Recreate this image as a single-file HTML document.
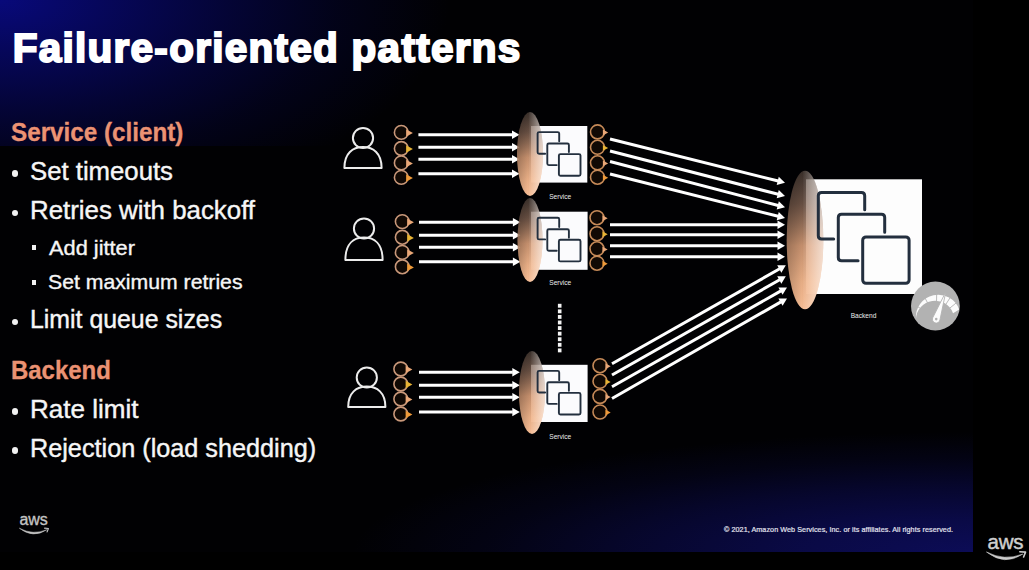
<!DOCTYPE html>
<html lang="en">
<head>
<meta charset="utf-8">
<title>Failure-oriented patterns</title>
<style>
html,body{margin:0;padding:0;background:#000;}
body{width:1029px;height:570px;overflow:hidden;position:relative;font-family:"Liberation Sans",sans-serif;color:#fff;}
.slide{position:absolute;left:0;top:0;width:972.5px;height:552px;overflow:hidden;
  background:#010103;}
.g1{position:absolute;left:0;top:0;width:972.5px;height:146px;
  background:radial-gradient(ellipse 450px 218px at 0 0, rgba(8,9,122,1) 0%, rgba(8,9,122,.71) 25%, rgba(8,9,122,.43) 50%, rgba(8,9,122,.18) 75%, rgba(8,9,122,0) 100%);}
.g2{position:absolute;left:0;top:402px;width:972.5px;height:150px;
  background:radial-gradient(ellipse 620px 120px at 100% 100%, rgba(12,12,86,1) 0%, rgba(12,12,86,.8) 28%, rgba(12,12,86,.5) 55%, rgba(12,12,86,.2) 78%, rgba(12,12,86,0) 100%);}
.t{position:absolute;white-space:nowrap;line-height:1;transform-origin:0 0;}
.title{font-weight:bold;font-size:40.5px;color:#fff;-webkit-text-stroke:2px #fff;}
.h{font-weight:bold;font-size:25.2px;color:#eb9273;-webkit-text-stroke:.3px #eb9273;}
.b1{font-size:25.2px;color:#f6f6f6;-webkit-text-stroke:.4px #f6f6f6;}
.b2{font-size:20.2px;color:#f6f6f6;-webkit-text-stroke:.35px #f6f6f6;}
.dot{position:absolute;background:#f2f2f2;}
.copy{font-size:7.2px;color:#e2e2ee;left:724px;top:526.4px;letter-spacing:.07px;-webkit-text-stroke:.2px #e2e2ee;}
.aws{position:absolute;font-weight:normal;color:#c4c4c4;line-height:1;white-space:nowrap;}
svg{position:absolute;left:0;top:0;}
svg text{font-family:"Liberation Sans",sans-serif;}
</style>
</head>
<body>
<div class="slide">
  <div class="g1"></div><div class="g2"></div>
  <div class="t title" id="title" style="left:12.7px;top:27.9px;letter-spacing:1.27px">Failure-oriented patterns</div>
  <div class="t h" id="h1" style="left:11.2px;top:119.9px;transform:scaleX(0.962)">Service (client)</div>
  <div class="t b1" id="l1" style="left:29.85px;top:158.8px;transform:scaleX(1.021)">Set timeouts</div>
  <div class="t b1" id="l2" style="left:30.1px;top:198.0px;transform:scaleX(1.026)">Retries with backoff</div>
  <div class="t b2" id="l3" style="left:49.1px;top:237.5px;transform:scaleX(1.079)">Add jitter</div>
  <div class="t b2" id="l4" style="left:48.0px;top:271.9px;transform:scaleX(1.051)">Set maximum retries</div>
  <div class="t b1" id="l5" style="left:30.2px;top:307.2px;transform:scaleX(0.987)">Limit queue sizes</div>
  <div class="t h" id="h2" style="left:10.9px;top:358.0px;transform:scaleX(0.951)">Backend</div>
  <div class="t b1" id="l6" style="left:30.0px;top:397.3px;transform:scaleX(1.034)">Rate limit</div>
  <div class="t b1" id="l7" style="left:30.1px;top:436.3px;transform:scaleX(1.002)">Rejection (load shedding)</div>
  <div class="dot" style="left:11.8px;top:170.2px;width:6.4px;height:6.4px;border-radius:50%"></div>
  <div class="dot" style="left:11.8px;top:209.5px;width:6.4px;height:6.4px;border-radius:50%"></div>
  <div class="dot" style="left:11.8px;top:318.6px;width:6.4px;height:6.4px;border-radius:50%"></div>
  <div class="dot" style="left:11.8px;top:408.4px;width:6.4px;height:6.4px;border-radius:50%"></div>
  <div class="dot" style="left:11.8px;top:447.4px;width:6.4px;height:6.4px;border-radius:50%"></div>
  <div class="dot" style="left:31.7px;top:244.8px;width:4.8px;height:5.2px;border-radius:0"></div>
  <div class="dot" style="left:31.7px;top:279.9px;width:4.8px;height:5.2px;border-radius:0"></div>
  <div class="t copy" id="copy">© 2021, Amazon Web Services, Inc. or its affiliates. All rights reserved.</div>
  <div class="aws" id="aws1" style="left:19.6px;top:511.9px;font-size:16px;-webkit-text-stroke:.35px #c4c4c4;letter-spacing:-.2px">aws</div>
</div>
<div class="aws" id="aws2" style="left:987.6px;top:531.6px;font-size:20.5px;color:#cfcfcf;-webkit-text-stroke:.45px #cfcfcf;letter-spacing:-.3px">aws</div>

<svg width="1029" height="570" viewBox="0 0 1029 570">
<defs>
 <linearGradient id="eg" x1="0" y1="0" x2="0" y2="1">
  <stop offset="0" stop-color="#4e4038" stop-opacity=".72"/>
  <stop offset=".24" stop-color="#826352" stop-opacity=".78"/>
  <stop offset=".54" stop-color="#d99e78" stop-opacity=".9"/>
  <stop offset=".8" stop-color="#f0b48a" stop-opacity=".96"/>
  <stop offset="1" stop-color="#f6bc94" stop-opacity="1"/>
 </linearGradient>
 <linearGradient id="eh" x1="0" y1="0" x2="1" y2="0">
  <stop offset="0" stop-color="#000" stop-opacity=".2"/>
  <stop offset=".42" stop-color="#000" stop-opacity="0"/>
  <stop offset=".46" stop-color="#fff" stop-opacity=".04"/>
  <stop offset="1" stop-color="#fff" stop-opacity=".6"/>
 </linearGradient>
</defs>
<circle cx="363" cy="138" r="10.1" fill="none" stroke="#ececec" stroke-width="2"/>
<path d="M344.4,168 C344.4,153.1 352.77,147.1 363,147.1 C373.23,147.1 381.6,153.1 381.6,168 Z" fill="none" stroke="#ececec" stroke-width="2" stroke-linejoin="round"/>
<circle cx="401.3" cy="132.4" r="6.9" fill="#110904" stroke="#c9987a" stroke-width="1.6"/>
<polygon points="406.1,129.2 412.9,133 406.1,136.7" fill="#e9a777"/>
<circle cx="401.3" cy="148.5" r="6.9" fill="#110904" stroke="#c9987a" stroke-width="1.6"/>
<polygon points="406.1,145.3 412.9,149.1 406.1,152.8" fill="#e7b335"/>
<circle cx="401.3" cy="162.9" r="6.9" fill="#110904" stroke="#c9987a" stroke-width="1.6"/>
<polygon points="406.1,159.7 412.9,163.5 406.1,167.2" fill="#e9a777"/>
<circle cx="401.3" cy="177.4" r="6.9" fill="#110904" stroke="#c9987a" stroke-width="1.6"/>
<polygon points="406.1,174.2 412.9,178 406.1,181.7" fill="#ee9a3a"/>
<line x1="418.4" y1="134.7" x2="512.5" y2="134.7" stroke="#fff" stroke-width="3.0"/>
<polygon points="519.5,134.7 512,138.9 512,130.5" fill="#fff"/>
<line x1="418.4" y1="147.3" x2="512.5" y2="147.3" stroke="#fff" stroke-width="3.0"/>
<polygon points="519.5,147.3 512,151.5 512,143.1" fill="#fff"/>
<line x1="418.4" y1="159.2" x2="512.5" y2="159.2" stroke="#fff" stroke-width="3.0"/>
<polygon points="519.5,159.2 512,163.4 512,155" fill="#fff"/>
<line x1="418.4" y1="173.7" x2="512.5" y2="173.7" stroke="#fff" stroke-width="3.0"/>
<polygon points="519.5,173.7 512,177.9 512,169.5" fill="#fff"/>
<rect x="531" y="126" width="56.3" height="56.6" fill="#fbfbfd"/>
<ellipse cx="530" cy="154" rx="13" ry="42" fill="url(#eg)"/>
<ellipse cx="530" cy="154" rx="13" ry="42" fill="url(#eh)"/>
<path d="M545.14,153.7 H539.11 Q537.6,153.7 537.6,152.19 V133.61 Q537.6,132.1 539.11,132.1 H557.69 Q559.2,132.1 559.2,133.61 V141.34" fill="none" stroke="#232f3e" stroke-width="1.9" stroke-linecap="round" stroke-linejoin="round" opacity="1"/>
<path d="M556.74,165.1 H548.81 Q547.3,165.1 547.3,163.59 V145.01 Q547.3,143.5 548.81,143.5 H567.39 Q568.9,143.5 568.9,145.01 V151.94" fill="none" stroke="#232f3e" stroke-width="1.9" stroke-linecap="round" stroke-linejoin="round" opacity="1"/>
<rect x="558.9" y="154.1" width="21.6" height="21.6" rx="1.51" fill="none" stroke="#232f3e" stroke-width="1.9" stroke-linecap="round" stroke-linejoin="round" opacity="1"/>
<text x="560.15" y="198.5" font-size="6.6" text-anchor="middle" fill="#ededed">Service</text>
<circle cx="597.5" cy="131.9" r="7" fill="#110904" stroke="#c68a58" stroke-width="1.6"/>
<polygon points="602.86,129.51 608.17,132.5 602.86,135.39" fill="#e9a777"/>
<circle cx="597.5" cy="147.3" r="7" fill="#110904" stroke="#c68a58" stroke-width="1.6"/>
<polygon points="602.86,144.91 608.17,147.9 602.86,150.79" fill="#e7b335"/>
<circle cx="597.5" cy="162.8" r="7" fill="#110904" stroke="#c68a58" stroke-width="1.6"/>
<polygon points="602.86,160.41 608.17,163.4 602.86,166.29" fill="#e9a777"/>
<circle cx="597.5" cy="177.2" r="7" fill="#110904" stroke="#c68a58" stroke-width="1.6"/>
<polygon points="602.86,174.81 608.17,177.8 602.86,180.69" fill="#ee9a3a"/>
<line x1="610" y1="139" x2="778.21" y2="181" stroke="#fff" stroke-width="3.0"/>
<polygon points="785,182.7 776.71,184.96 778.74,176.81" fill="#fff"/>
<line x1="610" y1="151" x2="778.22" y2="194.26" stroke="#fff" stroke-width="3.0"/>
<polygon points="785,196 776.69,198.2 778.78,190.06" fill="#fff"/>
<line x1="610" y1="161.5" x2="778.23" y2="205.53" stroke="#fff" stroke-width="3.0"/>
<polygon points="785,207.3 776.68,209.46 778.81,201.34" fill="#fff"/>
<line x1="610" y1="174" x2="778.21" y2="216.29" stroke="#fff" stroke-width="3.0"/>
<polygon points="785,218 776.7,220.24 778.75,212.1" fill="#fff"/>
<circle cx="364" cy="228.5" r="10.1" fill="none" stroke="#ececec" stroke-width="2"/>
<path d="M345.4,260 C345.4,243.6 353.77,237.6 364,237.6 C374.23,237.6 382.6,243.6 382.6,260 Z" fill="none" stroke="#ececec" stroke-width="2" stroke-linejoin="round"/>
<circle cx="402.3" cy="221.6" r="6.9" fill="#110904" stroke="#c9987a" stroke-width="1.6"/>
<polygon points="407.1,218.4 413.9,222.2 407.1,225.9" fill="#e9a777"/>
<circle cx="402.3" cy="237.3" r="6.9" fill="#110904" stroke="#c9987a" stroke-width="1.6"/>
<polygon points="407.1,234.1 413.9,237.9 407.1,241.6" fill="#e7b335"/>
<circle cx="402.3" cy="252.4" r="6.9" fill="#110904" stroke="#c9987a" stroke-width="1.6"/>
<polygon points="407.1,249.2 413.9,253 407.1,256.7" fill="#e9a777"/>
<circle cx="402.3" cy="266.8" r="6.9" fill="#110904" stroke="#c9987a" stroke-width="1.6"/>
<polygon points="407.1,263.6 413.9,267.4 407.1,271.1" fill="#ee9a3a"/>
<line x1="419" y1="222.2" x2="513.4" y2="222.2" stroke="#fff" stroke-width="3.0"/>
<polygon points="520.4,222.2 512.9,226.4 512.9,218" fill="#fff"/>
<line x1="419" y1="235.2" x2="513.4" y2="235.2" stroke="#fff" stroke-width="3.0"/>
<polygon points="520.4,235.2 512.9,239.4 512.9,231" fill="#fff"/>
<line x1="419" y1="247.2" x2="513.4" y2="247.2" stroke="#fff" stroke-width="3.0"/>
<polygon points="520.4,247.2 512.9,251.4 512.9,243" fill="#fff"/>
<line x1="419" y1="261.7" x2="513.4" y2="261.7" stroke="#fff" stroke-width="3.0"/>
<polygon points="520.4,261.7 512.9,265.9 512.9,257.5" fill="#fff"/>
<rect x="531" y="211.7" width="56.6" height="58.1" fill="#fbfbfd"/>
<ellipse cx="530" cy="240" rx="12.5" ry="42" fill="url(#eg)"/>
<ellipse cx="530" cy="240" rx="12.5" ry="42" fill="url(#eh)"/>
<path d="M545.14,239.4 H539.11 Q537.6,239.4 537.6,237.89 V219.31 Q537.6,217.8 539.11,217.8 H557.69 Q559.2,217.8 559.2,219.31 V227.04" fill="none" stroke="#232f3e" stroke-width="1.9" stroke-linecap="round" stroke-linejoin="round" opacity="1"/>
<path d="M556.74,250.8 H548.81 Q547.3,250.8 547.3,249.29 V230.71 Q547.3,229.2 548.81,229.2 H567.39 Q568.9,229.2 568.9,230.71 V237.64" fill="none" stroke="#232f3e" stroke-width="1.9" stroke-linecap="round" stroke-linejoin="round" opacity="1"/>
<rect x="558.9" y="239.8" width="21.6" height="21.6" rx="1.51" fill="none" stroke="#232f3e" stroke-width="1.9" stroke-linecap="round" stroke-linejoin="round" opacity="1"/>
<text x="560.3" y="284.8" font-size="6.6" text-anchor="middle" fill="#ededed">Service</text>
<circle cx="597" cy="217.7" r="7" fill="#110904" stroke="#c68a58" stroke-width="1.6"/>
<polygon points="602.36,215.31 607.67,218.3 602.36,221.19" fill="#e9a777"/>
<circle cx="597" cy="233.7" r="7" fill="#110904" stroke="#c68a58" stroke-width="1.6"/>
<polygon points="602.36,231.31 607.67,234.3 602.36,237.19" fill="#e7b335"/>
<circle cx="597" cy="248.8" r="7" fill="#110904" stroke="#c68a58" stroke-width="1.6"/>
<polygon points="602.36,246.41 607.67,249.4 602.36,252.29" fill="#e9a777"/>
<circle cx="597" cy="263.2" r="7" fill="#110904" stroke="#c68a58" stroke-width="1.6"/>
<polygon points="602.36,260.81 607.67,263.8 602.36,266.69" fill="#ee9a3a"/>
<line x1="610" y1="224.7" x2="778" y2="224.7" stroke="#fff" stroke-width="3.0"/>
<polygon points="785,224.7 777.5,228.9 777.5,220.5" fill="#fff"/>
<line x1="610" y1="234.7" x2="778" y2="234.7" stroke="#fff" stroke-width="3.0"/>
<polygon points="785,234.7 777.5,238.9 777.5,230.5" fill="#fff"/>
<line x1="610" y1="245.8" x2="778" y2="245.8" stroke="#fff" stroke-width="3.0"/>
<polygon points="785,245.8 777.5,250 777.5,241.6" fill="#fff"/>
<line x1="610" y1="256.7" x2="778" y2="256.7" stroke="#fff" stroke-width="3.0"/>
<polygon points="785,256.7 777.5,260.9 777.5,252.5" fill="#fff"/>
<circle cx="366.8" cy="377.5" r="10.1" fill="none" stroke="#ececec" stroke-width="2"/>
<path d="M348.2,407 C348.2,392.6 356.57,386.6 366.8,386.6 C377.03,386.6 385.4,392.6 385.4,407 Z" fill="none" stroke="#ececec" stroke-width="2" stroke-linejoin="round"/>
<circle cx="400.8" cy="369" r="6.9" fill="#110904" stroke="#c9987a" stroke-width="1.6"/>
<polygon points="405.6,365.8 412.4,369.6 405.6,373.3" fill="#e9a777"/>
<circle cx="400.8" cy="384" r="6.9" fill="#110904" stroke="#c9987a" stroke-width="1.6"/>
<polygon points="405.6,380.8 412.4,384.6 405.6,388.3" fill="#e7b335"/>
<circle cx="400.8" cy="399" r="6.9" fill="#110904" stroke="#c9987a" stroke-width="1.6"/>
<polygon points="405.6,395.8 412.4,399.6 405.6,403.3" fill="#e9a777"/>
<circle cx="400.8" cy="414" r="6.9" fill="#110904" stroke="#c9987a" stroke-width="1.6"/>
<polygon points="405.6,410.8 412.4,414.6 405.6,418.3" fill="#ee9a3a"/>
<line x1="419" y1="372.3" x2="512.8" y2="372.3" stroke="#fff" stroke-width="3.0"/>
<polygon points="519.8,372.3 512.3,376.5 512.3,368.1" fill="#fff"/>
<line x1="419" y1="385.3" x2="512.8" y2="385.3" stroke="#fff" stroke-width="3.0"/>
<polygon points="519.8,385.3 512.3,389.5 512.3,381.1" fill="#fff"/>
<line x1="419" y1="397.3" x2="512.8" y2="397.3" stroke="#fff" stroke-width="3.0"/>
<polygon points="519.8,397.3 512.3,401.5 512.3,393.1" fill="#fff"/>
<line x1="419" y1="412" x2="512.8" y2="412" stroke="#fff" stroke-width="3.0"/>
<polygon points="519.8,412 512.3,416.2 512.3,407.8" fill="#fff"/>
<rect x="531" y="364.8" width="56.6" height="57.2" fill="#fbfbfd"/>
<ellipse cx="532" cy="392.5" rx="13" ry="41.5" fill="url(#eg)"/>
<ellipse cx="532" cy="392.5" rx="13" ry="41.5" fill="url(#eh)"/>
<path d="M545.14,392.5 H539.11 Q537.6,392.5 537.6,390.99 V372.41 Q537.6,370.9 539.11,370.9 H557.69 Q559.2,370.9 559.2,372.41 V380.14" fill="none" stroke="#232f3e" stroke-width="1.9" stroke-linecap="round" stroke-linejoin="round" opacity="1"/>
<path d="M556.74,403.9 H548.81 Q547.3,403.9 547.3,402.39 V383.81 Q547.3,382.3 548.81,382.3 H567.39 Q568.9,382.3 568.9,383.81 V390.74" fill="none" stroke="#232f3e" stroke-width="1.9" stroke-linecap="round" stroke-linejoin="round" opacity="1"/>
<rect x="558.9" y="392.9" width="21.6" height="21.6" rx="1.51" fill="none" stroke="#232f3e" stroke-width="1.9" stroke-linecap="round" stroke-linejoin="round" opacity="1"/>
<text x="560.3" y="439" font-size="6.6" text-anchor="middle" fill="#ededed">Service</text>
<circle cx="600" cy="365.7" r="7" fill="#110904" stroke="#c68a58" stroke-width="1.6"/>
<polygon points="605.36,363.31 610.67,366.3 605.36,369.19" fill="#e9a777"/>
<circle cx="600" cy="381.3" r="7" fill="#110904" stroke="#c68a58" stroke-width="1.6"/>
<polygon points="605.36,378.91 610.67,381.9 605.36,384.79" fill="#e7b335"/>
<circle cx="600" cy="396.4" r="7" fill="#110904" stroke="#c68a58" stroke-width="1.6"/>
<polygon points="605.36,394.01 610.67,397 605.36,399.89" fill="#e9a777"/>
<circle cx="600" cy="412" r="7" fill="#110904" stroke="#c68a58" stroke-width="1.6"/>
<polygon points="605.36,409.61 610.67,412.6 605.36,415.49" fill="#ee9a3a"/>
<line x1="612" y1="363.8" x2="779.71" y2="268.75" stroke="#fff" stroke-width="3.0"/>
<polygon points="785.8,265.3 781.35,272.65 777.2,265.34" fill="#fff"/>
<line x1="612" y1="375" x2="779.71" y2="279.76" stroke="#fff" stroke-width="3.0"/>
<polygon points="785.8,276.3 781.35,283.66 777.2,276.35" fill="#fff"/>
<line x1="612" y1="386.8" x2="780.91" y2="290.86" stroke="#fff" stroke-width="3.0"/>
<polygon points="787,287.4 782.55,294.76 778.4,287.45" fill="#fff"/>
<line x1="612" y1="398.5" x2="780.92" y2="301.88" stroke="#fff" stroke-width="3.0"/>
<polygon points="787,298.4 782.58,305.77 778.4,298.48" fill="#fff"/>
<rect x="557.9" y="303.8" width="3.6" height="3.9" fill="#f4f4f4"/>
<rect x="557.9" y="309.38" width="3.6" height="3.9" fill="#f4f4f4"/>
<rect x="557.9" y="314.96" width="3.6" height="3.9" fill="#f4f4f4"/>
<rect x="557.9" y="320.54" width="3.6" height="3.9" fill="#f4f4f4"/>
<rect x="557.9" y="326.12" width="3.6" height="3.9" fill="#f4f4f4"/>
<rect x="557.9" y="331.7" width="3.6" height="3.9" fill="#f4f4f4"/>
<rect x="557.9" y="337.28" width="3.6" height="3.9" fill="#f4f4f4"/>
<rect x="557.9" y="342.86" width="3.6" height="3.9" fill="#f4f4f4"/>
<rect x="557.9" y="348.44" width="3.6" height="3.9" fill="#f4f4f4"/>
<rect x="806" y="179.3" width="116" height="114.7" fill="#fdfdfd"/>
<ellipse cx="805" cy="240" rx="18.3" ry="69.3" fill="url(#eg)"/>
<ellipse cx="805" cy="240" rx="18.3" ry="69.3" fill="url(#eh)"/>
<path d="M833.66,239 H821.55 Q818.3,239 818.3,235.75 V195.85 Q818.3,192.6 821.55,192.6 H861.45 Q864.7,192.6 864.7,195.85 V209.66" fill="none" stroke="#232f3e" stroke-width="3" stroke-linecap="round" stroke-linejoin="round" opacity="1"/>
<path d="M858.06,260.7 H841.55 Q838.3,260.7 838.3,257.45 V217.55 Q838.3,214.3 841.55,214.3 H881.45 Q884.7,214.3 884.7,217.55 V232.26" fill="none" stroke="#232f3e" stroke-width="3" stroke-linecap="round" stroke-linejoin="round" opacity="1"/>
<rect x="862.7" y="236.9" width="46.4" height="46.4" rx="3.25" fill="none" stroke="#232f3e" stroke-width="3" stroke-linecap="round" stroke-linejoin="round" opacity="1"/>
<text x="863.5" y="317.8" font-size="6.6" text-anchor="middle" fill="#ededed">Backend</text>
<circle cx="935.4" cy="306" r="24.4" fill="#b2b2b2"/>
<path d="M915.96,318.88 A22.3,22.3 0 0 1 959.19,309.54 L953.05,313.23 A19.14,19.14 0 0 0 915.96,318.88 Z" fill="#fcfcfc"/>
<line x1="923.79" y1="310.73" x2="914.67" y2="304.58" stroke="#b2b2b2" stroke-width="0.9"/>
<line x1="929.19" y1="305.88" x2="924.02" y2="296.17" stroke="#b2b2b2" stroke-width="0.9"/>
<line x1="936.49" y1="304.12" x2="936.68" y2="293.13" stroke="#b2b2b2" stroke-width="0.9"/>
<line x1="944.4" y1="306.54" x2="950.39" y2="297.32" stroke="#b2b2b2" stroke-width="0.9"/>
<line x1="947.88" y1="309.68" x2="956.43" y2="302.76" stroke="#b2b2b2" stroke-width="0.9"/>
<path d="M945.81,291.86 L939.93,320.02 A3.8,3.8 0 1 1 932.83,317.52 Z" fill="#fcfcfc" stroke="#b2b2b2" stroke-width="0.9"/>
<circle cx="936.23" cy="319.12" r="1.3" fill="#b2b2b2"/>
<!-- aws smiles -->
<path d="M19.3,528.2 Q33,538.9 46.9,529.7 Q33,535.6 19.3,528.2 Z" fill="#c2c2c2" stroke="#c2c2c2" stroke-width=".5" stroke-linejoin="round"/>
<path d="M44.6,528.2 L48.4,528.5 L47.1,531.9" fill="none" stroke="#c2c2c2" stroke-width="1.2" stroke-linecap="round" stroke-linejoin="round"/>
<path d="M986.5,552 Q1004.5,566.3 1022.8,554.1 Q1004.5,561.4 986.5,552 Z" fill="#cdcdcd" stroke="#cdcdcd" stroke-width=".6" stroke-linejoin="round"/>
<path d="M1019.8,551.7 L1025.5,552.1 L1023.6,557" fill="none" stroke="#cdcdcd" stroke-width="1.6" stroke-linecap="round" stroke-linejoin="round"/>
</svg>
</body>
</html>
